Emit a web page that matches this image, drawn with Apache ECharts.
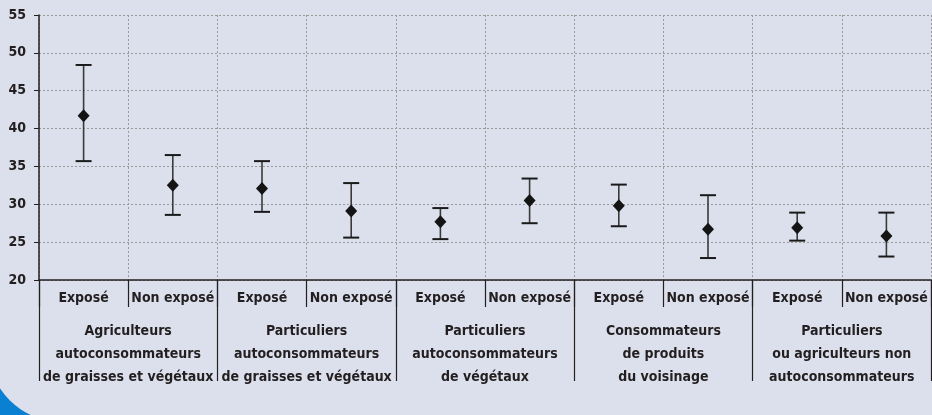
<!DOCTYPE html>
<html>
<head>
<meta charset="utf-8">
<script src="https://cdn.jsdelivr.net/npm/echarts@6/dist/echarts.min.js"></script>
<style>
  html, body { margin: 0; padding: 0; background: #dbe0ec; }
  #main { width: 932px; height: 415px; }
</style>
</head>
<body>
<div id="main"></div>
<script>
// sous-catégories (une par barre d'erreur)
const subCats = ['Exposé', 'Non exposé', 'Exposé', 'Non exposé', 'Exposé', 'Non exposé', 'Exposé', 'Non exposé', 'Exposé', 'Non exposé']
// groupes de population
const groups = [
  'Agriculteurs\nautoconsommateurs\nde graisses et végétaux',
  'Particuliers\nautoconsommateurs\nde graisses et végétaux',
  'Particuliers\nautoconsommateurs\nde végétaux',
  'Consommateurs\nde produits\ndu voisinage',
  'Particuliers\nou agriculteurs non\nautoconsommateurs'
]
const meanVals = [41.7, 32.5, 32.1, 29.1, 27.7, 30.5, 29.8, 26.7, 26.9, 25.8]
const lowVals = [35.7, 28.6, 29.0, 25.6, 25.4, 27.5, 27.1, 22.9, 25.2, 23.1]
const highVals = [48.4, 36.5, 35.7, 32.8, 29.5, 33.4, 32.6, 31.2, 28.9, 28.9]
const yTicks = [20, 25, 30, 35, 40, 45, 50, 55]

const font = "'Liberation Sans Narrow', 'DejaVu Sans Condensed', 'Roboto', sans-serif"
const textColor = '#231f20'

const errData = lowVals.map((v, i) => [i, v, highVals[i]])

var myChart = echarts.init(document.getElementById('main'))
var option = {
  backgroundColor: '#dbe0ec',
  animation: false,
  graphic: [
    { type: 'rect', z: -10, shape: { x: 0, y: 380, width: 45, height: 35 }, style: { fill: '#0a80d2' } },
    { type: 'circle', z: -9, shape: { cx: 62, cy: 348, r: 74 }, style: { fill: '#dbe0ec' } }
  ],
  grid: { left: 39, right: 1, top: 15, bottom: 135 },
  xAxis: [
    {
      type: 'category',
      data: subCats,
      boundaryGap: true,
      axisLine: { lineStyle: { color: '#231f20', width: 1.5 } },
      axisTick: { show: true, length: 27, lineStyle: { color: '#231f20', width: 1.2 } },
      axisLabel: {
        interval: 0, margin: 11,
        fontFamily: font, fontSize: 14, fontWeight: 'bold', color: textColor
      },
      splitLine: { show: true, lineStyle: { color: '#9a9a9a', type: [2, 2], width: 1 } }
    },
    {
      type: 'category',
      data: groups,
      position: 'bottom',
      boundaryGap: true,
      axisLine: { show: false },
      axisTick: { show: true, length: 101, lineStyle: { color: '#231f20', width: 1.2 } },
      axisLabel: {
        interval: 0, margin: 40, lineHeight: 23,
        fontFamily: font, fontSize: 14, fontWeight: 'bold', color: textColor
      },
      splitLine: { show: false }
    }
  ],
  yAxis: {
    type: 'value',
    min: 20,
    max: 55,
    interval: 5,
    axisLine: { show: true, lineStyle: { color: '#231f20', width: 1.5 } },
    axisTick: { show: true, length: 5, lineStyle: { color: '#231f20' } },
    axisLabel: {
      margin: 13,
      fontFamily: font, fontSize: 14, fontWeight: 'bold', color: textColor,
      formatter: v => (yTicks.indexOf(v) >= 0 ? String(v) : '')
    },
    splitLine: { show: true, lineStyle: { color: '#9a9a9a', type: [2, 2], width: 1 } }
  },
  series: [
    {
      type: 'custom',
      name: 'intervalle',
      xAxisIndex: 0,
      data: errData,
      renderItem: function (params, api) {
        const x = api.value(0)
        const lo = api.coord([x, api.value(1)])
        const hi = api.coord([x, api.value(2)])
        const half = 8
        const st = { stroke: '#3a3a3a', lineWidth: 1.6 }
        return {
          type: 'group',
          children: [
            { type: 'line', shape: { x1: hi[0], y1: hi[1], x2: lo[0], y2: lo[1] }, style: st },
            { type: 'line', shape: { x1: hi[0] - half, y1: hi[1], x2: hi[0] + half, y2: hi[1] }, style: { stroke: '#1a1a1a', lineWidth: 2 } },
            { type: 'line', shape: { x1: lo[0] - half, y1: lo[1], x2: lo[0] + half, y2: lo[1] }, style: { stroke: '#1a1a1a', lineWidth: 2 } }
          ]
        }
      },
      z: 3
    },
    {
      type: 'scatter',
      name: 'moyenne',
      xAxisIndex: 0,
      data: meanVals,
      symbol: 'diamond',
      symbolSize: [12, 13],
      itemStyle: { color: '#141414', opacity: 1 },
      z: 4
    }
  ]
}
myChart.setOption(option)
</script>
</body>
</html>
